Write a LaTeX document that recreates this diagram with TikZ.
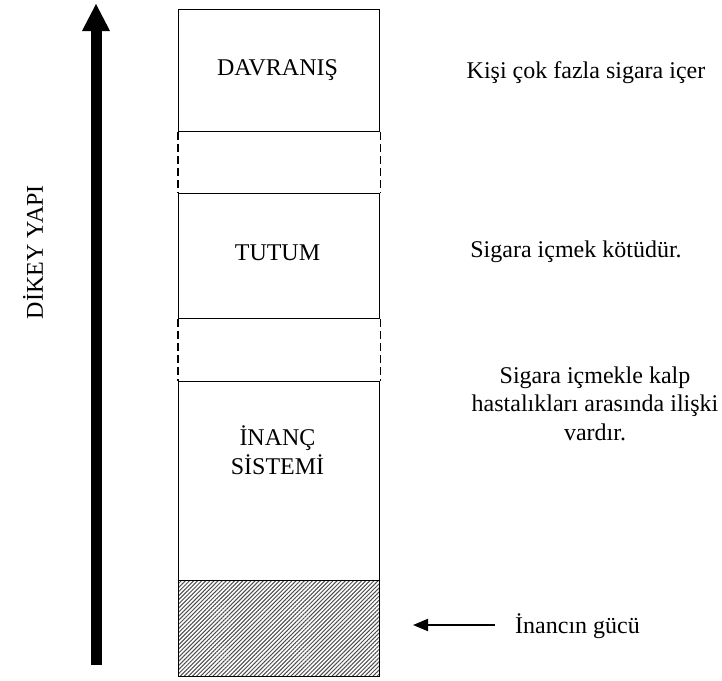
\documentclass[tikz,border=0pt]{standalone}
\usepackage{fontspec}
\setmainfont{Liberation Serif}
\usetikzlibrary{arrows.meta,patterns.meta}
\begin{document}
\begin{tikzpicture}[x=1pt,y=-1pt,
  box/.style={draw, line width=1.2pt, minimum width=201pt, inner sep=0pt, anchor=north west, fill=white},
  lbl/.style={font=\fontsize{24}{28.5}\selectfont, anchor=base, inner sep=0pt, align=center},
  gapline/.style={line width=1.2pt, dash pattern=on 8pt off 4pt}]
\useasboundingbox[fill=white] (0,0) rectangle (722,680);
% boxes
\node[box, minimum height=122pt] (dav) at (178,9) {};
\node[box, minimum height=125pt] (tut) at (178,193) {};
\node[box, minimum height=199pt] (inc) at (178,381) {};
\node[box, minimum height=96pt, fill=none, pattern={Lines[angle=45,distance=2.9pt,line width=1pt]}, pattern color=black!70] (hat) at (178,580) {};
% dashed connectors
\draw[gapline] (dav.south west) -- (tut.north west);
\draw[gapline] (dav.south east) -- (tut.north east);
\draw[gapline] (tut.south west) -- (inc.north west);
\draw[gapline] (tut.south east) -- (inc.north east);
% box labels
\node[lbl] (tdav) at (277.5,75) {DAVRANIŞ};
\node[lbl] (ttut) at (277.5,260) {TUTUM};
\node[lbl] (tinc) at (277.5,474) {İNANÇ\\SİSTEMİ};
% right texts
\node[lbl] (r1) at (586,78) {Kişi çok fazla sigara içer};
\node[lbl] (r2) at (576,257) {Sigara içmek kötüdür.};
\node[lbl] (r3) at (595,440) {Sigara içmekle kalp\\hastalıkları arasında ilişki\\vardır.};
\node[lbl, anchor=base west] (r4) at (515,633) {İnancın gücü};
% small arrow
\coordinate (sa) at (495,625);
\coordinate (sb) at (413,625);
\draw[line width=2pt, -{Triangle[length=15pt,width=12pt]}] (sa) -- (sb);
% vertical arrow
\coordinate (va) at (96,665);
\coordinate (vb) at (96,31);
\coordinate (vt) at (96,4);
\draw[line width=11pt] (va) -- (vb);
\fill ([xshift=-14pt]vb) -- ([xshift=14pt]vb) -- (vt) -- cycle;
\node[lbl, anchor=center, rotate=90] (dik) at (33,252) {DİKEY YAPI};
\end{tikzpicture}
\end{document}
